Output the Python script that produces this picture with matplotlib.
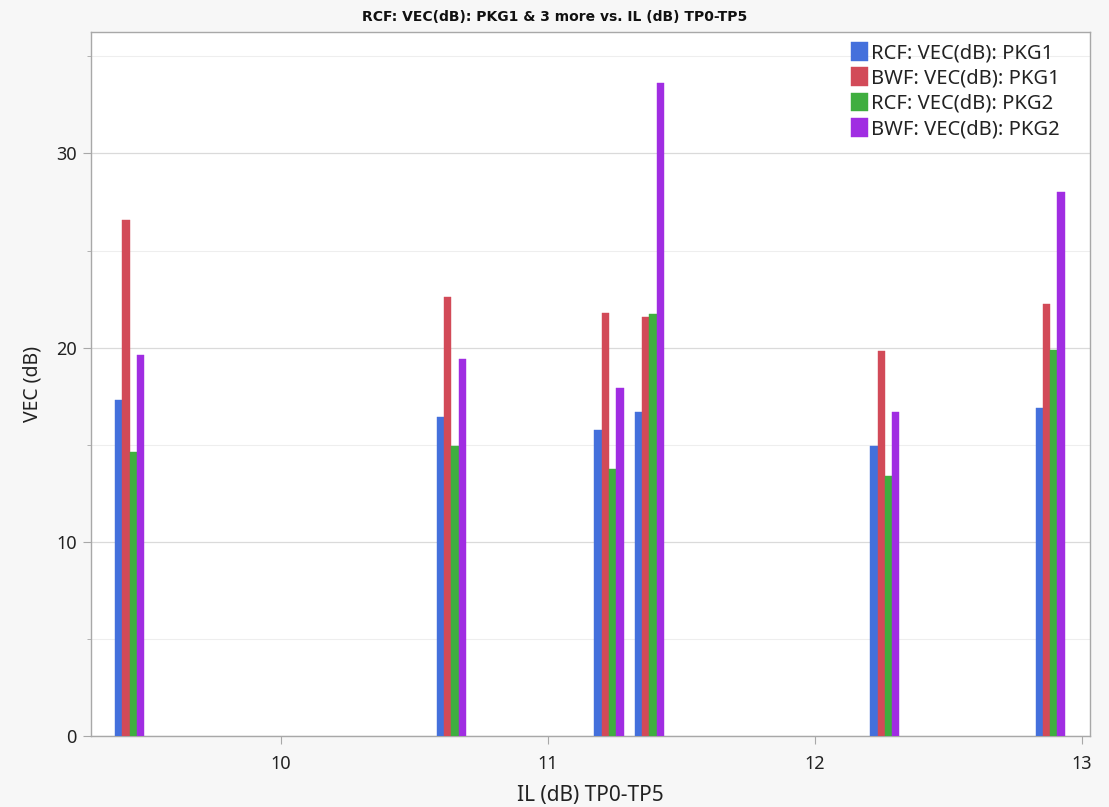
import matplotlib
matplotlib.use("Agg")
import matplotlib.pyplot as plt
import numpy as np
from matplotlib.ticker import MultipleLocator

plt.rcParams['font.family'] = ['Noto Sans', 'DejaVu Sans']

# IL (dB) TP0-TP5 positions of each group
il_values = [9.4345, 10.640, 11.230, 11.381, 12.263, 12.882]

series_names = ["RCF: VEC(dB): PKG1", "BWF: VEC(dB): PKG1",
                "RCF: VEC(dB): PKG2", "BWF: VEC(dB): PKG2"]
rcf_pkg1 = [17.29, 16.41, 15.74, 16.68, 14.95, 16.87]
bwf_pkg1 = [26.57, 22.59, 21.77, 21.56, 19.83, 22.23]
rcf_pkg2 = [14.64, 14.95, 13.75, 21.73, 13.39, 19.88]
bwf_pkg2 = [19.62, 19.40, 17.90, 33.61, 16.68, 28.03]
colors = ["#4470dc", "#d24a58", "#3fae3f", "#a02de2"]

x_ticks = [10, 11, 12, 13]
y_ticks = [0, 10, 20, 30]

fig = plt.figure(figsize=(11.09, 8.07), dpi=100)
fig.patch.set_facecolor("#f7f7f7")
ax = fig.add_axes([0.0818, 0.088, 0.9012, 0.8723])
ax.set_facecolor("white")

bar_w = 0.0273
all_series = [rcf_pkg1, bwf_pkg1, rcf_pkg2, bwf_pkg2]
x = np.array(il_values)
for i, (vals, name, c) in enumerate(zip(all_series, series_names, colors)):
    ax.bar(x + (i - 1.5) * bar_w, vals, width=bar_w, color=c, label=name,
           edgecolor=c, linewidth=0.3, zorder=3)

ax.set_xlim(9.289, 13.032)
ax.set_ylim(0, 36.25)
ax.set_xticks(x_ticks)
ax.set_yticks(y_ticks)
ax.yaxis.set_minor_locator(MultipleLocator(5))
ax.grid(axis='y', which='major', color='#dadada', linewidth=0.9, zorder=0)
ax.grid(axis='y', which='minor', color='#eeeeee', linewidth=0.8, zorder=0)

for s in ax.spines.values():
    s.set_color('#a8a8a8')
    s.set_linewidth(1.0)

ax.tick_params(axis='both', which='major', length=6, color='#a8a8a8',
               labelsize=13, labelcolor='#222222', pad=4)
ax.tick_params(axis='y', which='minor', length=3, color='#a8a8a8')
ax.tick_params(axis='x', which='major', pad=8)

ax.set_xlabel("IL (dB) TP0-TP5", fontsize=15, color='#222222', labelpad=8)
ax.set_ylabel("VEC (dB)", fontsize=14, color='#222222', labelpad=10)

fig.text(0.5, 0.979, "RCF: VEC(dB): PKG1 & 3 more vs. IL (dB) TP0-TP5",
         ha='center', va='center', fontsize=10, fontweight='bold',
         family=['DejaVu Sans'], color='#111111')

leg = ax.legend(loc='upper right', frameon=False, fontsize=14.5,
                handlelength=0.85, handleheight=1.05, handletextpad=0.15,
                labelspacing=0.2, borderaxespad=0.1,
                bbox_to_anchor=(0.98, 1.0))
for t in leg.get_texts():
    t.set_color('#222222')

fig.savefig("out.png", dpi=100, facecolor=fig.get_facecolor())
